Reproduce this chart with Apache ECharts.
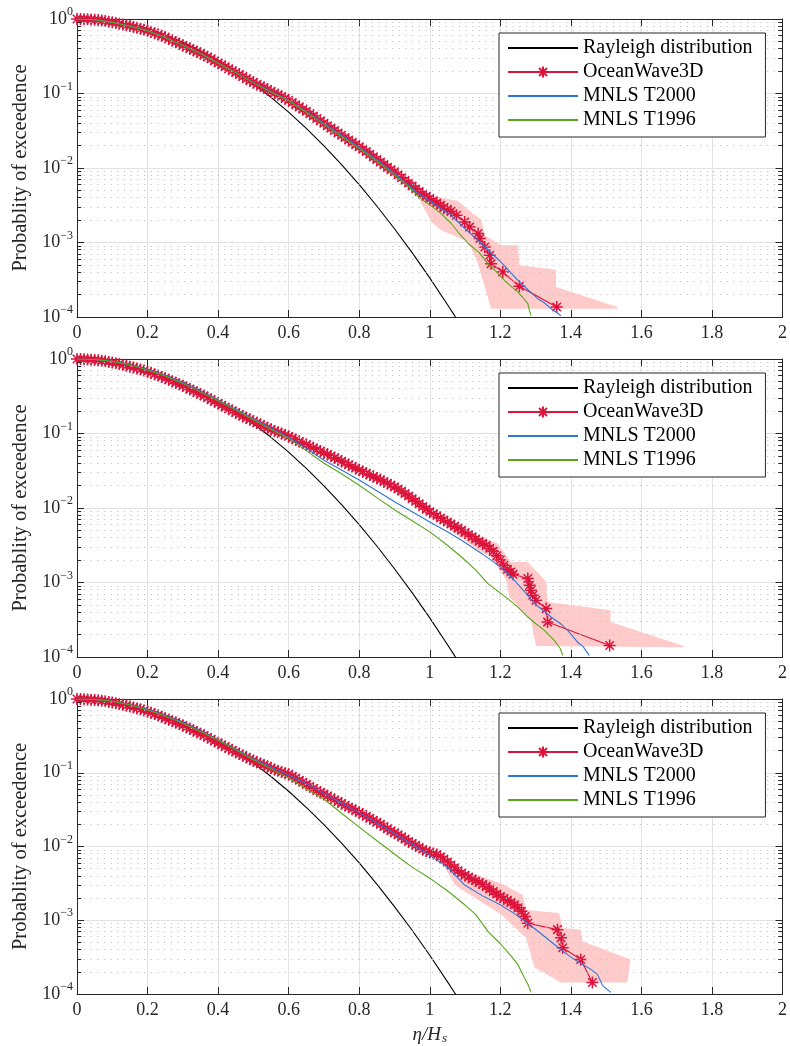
<!DOCTYPE html>
<html><head><meta charset="utf-8">
<script src="https://cdn.jsdelivr.net/npm/echarts@6/dist/echarts.min.js"></script>
<style>html,body{margin:0;padding:0;background:#fff}#c{width:790px;height:1046px}</style>
</head><body><div id="c"></div>
<script>
// ---------------- DATA ----------------
const seriesNames = ['Rayleigh distribution', 'OceanWave3D', 'MNLS T2000', 'MNLS T1996'];
const xTickValues = [0, 0.2, 0.4, 0.6, 0.8, 1, 1.2, 1.4, 1.6, 1.8, 2];
const xTickLabels = ['0', '0.2', '0.4', '0.6', '0.8', '1', '1.2', '1.4', '1.6', '1.8', '2'];
const yTickValues = [1e-4, 1e-3, 1e-2, 1e-1, 1];
const yTickExponents = ['\u22124', '\u22123', '\u22122', '\u22121', '0'];
const yMinorTicks = [2e-4,3e-4,4e-4,5e-4,6e-4,7e-4,8e-4,9e-4,
                     2e-3,3e-3,4e-3,5e-3,6e-3,7e-3,8e-3,9e-3,
                     2e-2,3e-2,4e-2,5e-2,6e-2,7e-2,8e-2,9e-2,
                     0.2,0.3,0.4,0.5,0.6,0.7,0.8,0.9];

// Rayleigh distribution (same in every panel)
const rayleigh = [[0,1],[0.05,0.980],[0.1,0.923],[0.15,0.835],[0.2,0.726],[0.25,0.6065],[0.3,0.4868],
  [0.35,0.3753],[0.4,0.2780],[0.45,0.1979],[0.5,0.1353],[0.55,0.0889],[0.6,0.0561],[0.65,0.0340],
  [0.7,0.0198],[0.75,0.0111],[0.8,0.00598],[0.85,0.00309],[0.9,0.00153],[0.95,0.000732],[1.0,0.000335],
  [1.05,0.000147],[1.07,0.000105],[1.08,0.0000885]];

// ---- Panel 1 ----
const ow3d1 = [[0,1],[0.01,0.999],[0.02,0.995],[0.03,0.990],[0.04,0.984],[0.05,0.976],[0.06,0.966],[0.07,0.953],
  [0.08,0.938],[0.09,0.921],[0.10,0.902],[0.11,0.882],[0.12,0.861],[0.13,0.844],[0.14,0.826],[0.15,0.804],
  [0.16,0.782],[0.17,0.762],[0.18,0.741],[0.19,0.720],[0.20,0.700],[0.21,0.672],[0.22,0.646],[0.23,0.621],
  [0.24,0.596],[0.25,0.569],[0.26,0.543],[0.27,0.516],[0.28,0.490],[0.29,0.466],[0.30,0.442],[0.31,0.422],
  [0.32,0.403],[0.33,0.382],[0.34,0.363],[0.35,0.345],[0.36,0.327],[0.37,0.309],[0.38,0.292],[0.39,0.274],
  [0.40,0.257],[0.41,0.243],[0.42,0.229],[0.43,0.215],[0.44,0.202],[0.45,0.191],[0.46,0.180],[0.47,0.169],
  [0.48,0.158],[0.49,0.149],[0.50,0.141],[0.51,0.133],[0.52,0.126],[0.53,0.120],[0.54,0.1135],[0.55,0.107],
  [0.56,0.101],[0.57,0.096],[0.58,0.0912],[0.59,0.086],[0.60,0.0813],[0.61,0.0759],[0.62,0.0708],[0.63,0.0661],
  [0.64,0.0617],[0.65,0.0575],[0.66,0.0537],[0.67,0.0498],[0.68,0.0462],[0.69,0.0429],[0.70,0.0398],
  [0.71,0.0369],[0.72,0.0343],[0.73,0.0318],[0.74,0.0295],[0.75,0.0275],[0.76,0.0257],[0.77,0.0238],
  [0.78,0.0221],[0.79,0.0206],[0.80,0.0193],[0.81,0.0179],[0.82,0.0166],[0.83,0.0153],[0.84,0.0141],
  [0.85,0.0130],[0.86,0.0120],[0.87,0.0111],[0.88,0.0102],[0.89,0.0095],[0.90,0.00891],[0.91,0.00813],
  [0.92,0.00741],[0.93,0.00683],[0.94,0.00631],[0.95,0.00575],[0.96,0.00525],[0.97,0.00485],[0.98,0.00447],
  [0.99,0.00417],[1.00,0.00389],[1.01,0.00363],[1.02,0.00339],[1.03,0.00316],[1.04,0.00295],[1.05,0.00278],
  [1.06,0.00263],[1.076,0.00232],[1.099,0.00189],[1.113,0.00161],[1.137,0.00132],[1.142,0.00113],
  [1.156,0.00087],[1.170,0.000673],[1.174,0.00052],[1.207,0.000401],[1.254,0.000258],[1.360,0.000136]];
const t2000_1 = [[0,1],[0.05,0.977],[0.1,0.902],[0.15,0.804],[0.2,0.700],[0.25,0.569],[0.3,0.442],[0.35,0.347],
  [0.4,0.257],[0.45,0.191],[0.5,0.141],[0.55,0.107],[0.6,0.0813],[0.65,0.0575],[0.7,0.0398],[0.75,0.0275],
  [0.8,0.0191],[0.85,0.0129],[0.9,0.00851],[0.95,0.00537],[0.968,0.00454],[1.0,0.00363],[1.03,0.0029],
  [1.061,0.00232],[1.09,0.0017],[1.12,0.00126],[1.156,0.00087],[1.18,0.00068],[1.2,0.00056],[1.22,0.00044],
  [1.25,0.00031],[1.28,0.00023],[1.306,0.000176],[1.325,0.000155],[1.344,0.000129],[1.36,0.000115],[1.372,0.000104]];
const t1996_1 = [[0,1],[0.05,0.977],[0.1,0.9],[0.15,0.8],[0.2,0.695],[0.25,0.565],[0.3,0.44],[0.35,0.345],
  [0.4,0.255],[0.45,0.19],[0.5,0.14],[0.55,0.105],[0.6,0.08],[0.65,0.056],[0.7,0.0385],[0.75,0.0265],
  [0.8,0.0183],[0.85,0.0123],[0.9,0.0081],[0.95,0.0051],[0.968,0.0041],[1.0,0.0032],[1.03,0.0025],
  [1.061,0.0018],[1.085,0.0013],[1.109,0.00097],[1.14,0.00073],[1.165,0.00052],[1.19,0.0004],[1.212,0.00031],
  [1.23,0.00026],[1.25,0.000216],[1.265,0.00018],[1.278,0.000151],[1.283,0.00012],[1.287,0.000105]];
const band1 = [[0.96,0.0058],[1.0,0.0043],[1.08,0.00361],[1.123,0.00244],[1.146,0.00203],[1.156,0.00125],
  [1.203,0.000916],[1.25,0.000916],[1.254,0.000494],[1.358,0.000432],[1.358,0.000252],[1.532,0.000136],
  [1.532,0.000129],[1.174,0.000129],[1.137,0.00052],[1.109,0.00102],[1.033,0.00146],[1.005,0.00189],[0.96,0.0046]];

// ---- Panel 2 ----
const ow3d2 = [[0,1],[0.01,0.998],[0.02,0.993],[0.03,0.987],[0.04,0.979],[0.05,0.970],[0.06,0.959],[0.07,0.946],
  [0.08,0.931],[0.09,0.914],[0.10,0.895],[0.11,0.876],[0.12,0.855],[0.13,0.835],[0.14,0.813],[0.15,0.790],
  [0.16,0.767],[0.17,0.746],[0.18,0.724],[0.19,0.700],[0.20,0.676],[0.21,0.650],[0.22,0.624],[0.23,0.600],
  [0.24,0.575],[0.25,0.550],[0.26,0.525],[0.27,0.502],[0.28,0.479],[0.29,0.458],[0.30,0.437],[0.31,0.415],
  [0.32,0.394],[0.33,0.374],[0.34,0.355],[0.35,0.337],[0.36,0.320],[0.37,0.302],[0.38,0.285],[0.39,0.269],
  [0.40,0.254],[0.41,0.240],[0.42,0.226],[0.43,0.214],[0.44,0.202],[0.45,0.191],[0.46,0.180],[0.47,0.171],
  [0.48,0.162],[0.49,0.154],[0.50,0.146],[0.51,0.139],[0.52,0.132],[0.53,0.125],[0.54,0.119],[0.55,0.113],
  [0.56,0.108],[0.57,0.104],[0.58,0.100],[0.59,0.0955],[0.60,0.0912],[0.61,0.0867],[0.62,0.0824],[0.63,0.0783],
  [0.64,0.0745],[0.65,0.0708],[0.66,0.0673],[0.67,0.064],[0.68,0.0608],[0.69,0.0578],[0.70,0.055],
  [0.71,0.0525],[0.72,0.0498],[0.73,0.0472],[0.74,0.0447],[0.75,0.0424],[0.76,0.0402],[0.77,0.038],
  [0.78,0.036],[0.79,0.0342],[0.80,0.0324],[0.81,0.0308],[0.82,0.0292],[0.83,0.0278],[0.84,0.0264],
  [0.85,0.0251],[0.86,0.0239],[0.87,0.0226],[0.88,0.0214],[0.89,0.0203],[0.90,0.0192],[0.91,0.018],
  [0.92,0.0168],[0.93,0.0157],[0.94,0.0145],[0.95,0.0133],[0.96,0.0123],[0.97,0.0114],[0.98,0.0105],
  [0.99,0.00966],[1.00,0.00891],[1.01,0.00836],[1.02,0.00785],[1.03,0.00736],[1.04,0.00692],[1.05,0.00649],
  [1.06,0.0061],[1.07,0.00571],[1.08,0.00537],[1.09,0.00504],[1.10,0.0047],[1.11,0.0044],[1.12,0.0041],
  [1.13,0.00384],[1.14,0.00358],[1.15,0.00335],[1.16,0.00313],[1.17,0.00288],[1.18,0.00263],[1.19,0.00229],
  [1.20,0.0020],[1.21,0.0017],[1.22,0.00151],[1.23,0.00138],[1.236,0.00129],[1.278,0.00113],[1.283,0.000916],
  [1.287,0.000785],[1.292,0.000673],[1.301,0.000577],[1.330,0.000446],[1.334,0.000294],[1.510,0.000143]];
const t2000_2 = [[0,1],[0.05,0.986],[0.1,0.933],[0.15,0.841],[0.2,0.724],[0.25,0.603],[0.3,0.484],[0.35,0.372],
  [0.4,0.281],[0.45,0.214],[0.5,0.158],[0.55,0.119],[0.6,0.0891],[0.65,0.0631],[0.7,0.0437],[0.75,0.0324],
  [0.8,0.0237],[0.85,0.017],[0.9,0.0121],[0.95,0.00891],[1.0,0.0065],[1.05,0.00479],[1.09,0.00369],
  [1.15,0.0024],[1.2,0.00162],[1.24,0.00107],[1.278,0.000673],[1.297,0.00052],[1.32,0.000427],[1.344,0.000344],
  [1.37,0.000282],[1.391,0.000228],[1.419,0.000158],[1.435,0.000138],[1.452,0.000105]];
const t1996_2 = [[0,1],[0.05,0.985],[0.1,0.93],[0.15,0.835],[0.2,0.71],[0.25,0.59],[0.3,0.47],[0.35,0.362],
  [0.4,0.275],[0.45,0.207],[0.5,0.153],[0.55,0.113],[0.6,0.0861],[0.65,0.0589],[0.7,0.0398],[0.75,0.0288],
  [0.8,0.0202],[0.85,0.0138],[0.902,0.00933],[0.95,0.00676],[1.0,0.00478],[1.05,0.00316],[1.09,0.0022],
  [1.13,0.00148],[1.165,0.000966],[1.221,0.000607],[1.25,0.000468],[1.278,0.000344],[1.3,0.000282],
  [1.325,0.000228],[1.353,0.000167],[1.37,0.00013],[1.377,0.000105]];
const band2 = [[1.05,0.0075],[1.1,0.005],[1.193,0.00333],[1.231,0.00189],[1.278,0.00189],[1.330,0.00102],
  [1.334,0.000547],[1.513,0.000423],[1.513,0.000294],[1.72,0.00014],
  [1.72,0.000135],[1.301,0.00014],[1.287,0.00031],[1.226,0.000638],[1.217,0.00107],[1.174,0.0022],
  [1.137,0.00271],[1.1,0.0037],[1.05,0.0055]];

// ---- Panel 3 ----
const ow3d3 = [[0,1],[0.01,0.998],[0.02,0.993],[0.03,0.987],[0.04,0.979],[0.05,0.970],[0.06,0.959],[0.07,0.946],
  [0.08,0.931],[0.09,0.914],[0.10,0.895],[0.11,0.876],[0.12,0.855],[0.13,0.835],[0.14,0.813],[0.15,0.790],
  [0.16,0.767],[0.17,0.746],[0.18,0.724],[0.19,0.700],[0.20,0.676],[0.21,0.650],[0.22,0.624],[0.23,0.600],
  [0.24,0.575],[0.25,0.550],[0.26,0.525],[0.27,0.502],[0.28,0.479],[0.29,0.458],[0.30,0.437],[0.31,0.415],
  [0.32,0.394],[0.33,0.374],[0.34,0.355],[0.35,0.337],[0.36,0.320],[0.37,0.302],[0.38,0.285],[0.39,0.269],
  [0.40,0.254],[0.41,0.240],[0.42,0.226],[0.43,0.214],[0.44,0.202],[0.45,0.191],[0.46,0.180],[0.47,0.171],
  [0.48,0.162],[0.49,0.154],[0.50,0.146],[0.51,0.139],[0.52,0.133],[0.53,0.127],[0.54,0.122],[0.55,0.116],
  [0.56,0.111],[0.57,0.106],[0.58,0.102],[0.59,0.0985],[0.60,0.0955],[0.61,0.0895],[0.62,0.0841],[0.63,0.0789],
  [0.64,0.0741],[0.65,0.0696],[0.66,0.0653],[0.67,0.0613],[0.68,0.0575],[0.69,0.0543],[0.70,0.0513],
  [0.71,0.0484],[0.72,0.0457],[0.73,0.0431],[0.74,0.0407],[0.75,0.0384],[0.76,0.0363],[0.77,0.0343],
  [0.78,0.0324],[0.79,0.0306],[0.80,0.029],[0.81,0.0273],[0.82,0.0257],[0.83,0.0241],[0.84,0.0226],
  [0.85,0.0213],[0.86,0.020],[0.87,0.0187],[0.88,0.0174],[0.89,0.0163],[0.90,0.0153],[0.91,0.0144],
  [0.92,0.0135],[0.93,0.0126],[0.94,0.0117],[0.95,0.0110],[0.96,0.0104],[0.97,0.0097],[0.98,0.00912],
  [0.99,0.0087],[1.00,0.00832],[1.01,0.00805],[1.02,0.00776],[1.03,0.00724],[1.04,0.00676],[1.05,0.00617],
  [1.06,0.00562],[1.07,0.00513],[1.08,0.00468],[1.09,0.00437],[1.10,0.00407],[1.11,0.00385],[1.12,0.00363],
  [1.13,0.00343],[1.14,0.00324],[1.15,0.00305],[1.16,0.00288],[1.17,0.00266],[1.18,0.00245],[1.19,0.00226],
  [1.20,0.00209],[1.21,0.00197],[1.22,0.00186],[1.23,0.00174],[1.24,0.00162],[1.25,0.00148],[1.26,0.00132],
  [1.27,0.00112],[1.278,0.000912],[1.362,0.000746],[1.372,0.000577],[1.377,0.000423],[1.428,0.000294],
  [1.461,0.000143]];
const t2000_3 = [[0,1],[0.05,0.986],[0.1,0.933],[0.15,0.841],[0.2,0.724],[0.25,0.603],[0.3,0.484],[0.35,0.372],
  [0.4,0.281],[0.45,0.21],[0.5,0.155],[0.55,0.12],[0.6,0.0933],[0.65,0.0708],[0.7,0.0525],[0.75,0.0389],
  [0.8,0.0288],[0.855,0.0202],[0.9,0.0151],[0.95,0.0107],[1.0,0.00759],[1.05,0.00525],[1.099,0.003],
  [1.15,0.00214],[1.2,0.00162],[1.24,0.00123],[1.278,0.000912],[1.32,0.000631],[1.372,0.000398],[1.4,0.000316],
  [1.433,0.000251],[1.455,0.000219],[1.475,0.000186],[1.49,0.00013],[1.513,0.000105]];
const t1996_3 = [[0,1],[0.05,0.985],[0.1,0.93],[0.15,0.835],[0.2,0.71],[0.25,0.59],[0.3,0.47],[0.35,0.362],
  [0.4,0.275],[0.45,0.205],[0.5,0.15],[0.55,0.113],[0.6,0.0851],[0.65,0.0603],[0.7,0.044],[0.75,0.0282],
  [0.8,0.0183],[0.855,0.0115],[0.913,0.00708],[0.95,0.00525],[1.0,0.00372],[1.05,0.00251],[1.099,0.00162],
  [1.13,0.0012],[1.165,0.000708],[1.2,0.00048],[1.231,0.000327],[1.25,0.00025],[1.268,0.000167],
  [1.28,0.00013],[1.287,0.000105]];
const band3 = [[1.04,0.0075],[1.080,0.00454],[1.137,0.00409],[1.203,0.00316],[1.264,0.0022],[1.273,0.00138],
  [1.367,0.00125],[1.377,0.000785],[1.428,0.000746],[1.433,0.00052],[1.569,0.000294],
  [1.56,0.000143],[1.372,0.000143],[1.297,0.000228],[1.273,0.000577],[1.203,0.00119],[1.071,0.003],[1.04,0.0055]];

const panels = [
  {ow3d: ow3d1, t2000: t2000_1, t1996: t1996_1, band: band1},
  {ow3d: ow3d2, t2000: t2000_2, t1996: t1996_2, band: band2},
  {ow3d: ow3d3, t2000: t2000_3, t1996: t1996_3, band: band3}
];

// ---------------- STYLE ----------------
const FONT = '"Liberation Serif", "DejaVu Serif", serif';
const AX = '#262626';
const COL = {ray: '#000000', ow: '#DC143C', t2000: '#2F74D8', t1996: '#5AA51B', band: '#FFCACA'};
const GRID_TOPS = [19, 359, 699];
const STAR = 'path://M0,-10L0,10M-10,0L10,0M-7.07,-7.07L7.07,7.07M-7.07,7.07L7.07,-7.07';
const CLEAR = 'rgba(0,0,0,0)';

const chart = echarts.init(document.getElementById('c'), null, {renderer: 'canvas'});
const grids = [], xAxes = [], yAxes = [], series = [], legends = [];

function plainLine(name, data, color, xi, yi, z) {
  return {
    type: 'line', name: name, xAxisIndex: xi, yAxisIndex: yi, data: data, z: z,
    symbol: 'circle', symbolSize: 1, showSymbol: false,
    lineStyle: {color: color, width: 1.1}, itemStyle: {color: CLEAR, borderColor: CLEAR, borderWidth: 0},
    clip: true, silent: true
  };
}

panels.forEach((p, i) => {
  grids.push({left: 77, top: GRID_TOPS[i], width: 709, height: 298, containLabel: false});
  const last = i === panels.length - 1;
  xAxes.push({
    type: 'value', gridIndex: i, min: 0, max: 2, interval: 0.2, position: 'bottom',
    axisLine: {show: true, onZero: false, lineStyle: {color: AX, width: 1}},
    axisTick: {show: true, inside: true, length: 7, lineStyle: {color: AX, width: 1}},
    axisLabel: {show: true, margin: 7, fontFamily: FONT, fontSize: 18, color: AX,
      formatter: v => { const k = xTickValues.findIndex(t => Math.abs(t - v) < 1e-6); return k >= 0 ? xTickLabels[k] : ''; }},
    splitLine: {show: true, lineStyle: {color: '#e2e2e2', width: 1}},
    name: last ? '{i|\u03b7/H}{sub|s}' : '', nameLocation: 'middle', nameGap: 30,
    nameTextStyle: {fontFamily: FONT, color: AX, rich: {
      i: {fontFamily: FONT, fontStyle: 'italic', fontSize: 19, color: AX},
      sub: {fontFamily: FONT, fontStyle: 'italic', fontSize: 13, color: AX, padding: [8, 0, 0, 1]}}}
  });
  xAxes.push({
    type: 'value', gridIndex: i, min: 0, max: 2, interval: 0.2, position: 'top',
    axisLine: {show: true, onZero: false, lineStyle: {color: AX, width: 1}},
    axisTick: {show: true, inside: true, length: 7, lineStyle: {color: AX, width: 1}},
    axisLabel: {show: false}, splitLine: {show: false}
  });
  yAxes.push({
    type: 'log', logBase: 10, gridIndex: i, min: 1e-4, max: 1, position: 'left',
    axisLine: {show: true, onZero: false, lineStyle: {color: AX, width: 1}},
    axisTick: {show: true, inside: true, length: 7, lineStyle: {color: AX, width: 1}},
    axisLabel: {show: true, margin: 4, fontFamily: FONT, color: AX,
      formatter: v => { const k = yTickValues.findIndex(t => Math.abs(Math.log10(t) - Math.log10(v)) < 1e-6);
        return k >= 0 ? '{b|10}{s|' + yTickExponents[k] + '}' : ''; },
      rich: {b: {fontFamily: FONT, fontSize: 18, color: AX},
             s: {fontFamily: FONT, fontSize: 12, color: AX, padding: [0, 0, 14, 0]}}},
    splitLine: {show: true, lineStyle: {color: '#e2e2e2', width: 1}},
    name: 'Probablity of exceedence', nameLocation: 'middle', nameRotate: 90, nameGap: 46,
    nameTextStyle: {fontFamily: FONT, fontSize: 20.5, color: AX}
  });
  yAxes.push({
    type: 'log', logBase: 10, gridIndex: i, min: 1e-4, max: 1, position: 'right',
    axisLine: {show: true, onZero: false, lineStyle: {color: AX, width: 1}},
    axisTick: {show: true, inside: true, length: 7, lineStyle: {color: AX, width: 1}},
    axisLabel: {show: false}, splitLine: {show: false}
  });

  const xi = 2 * i, yi = 2 * i;
  // minor grid lines and minor ticks, placed through the axes' coordinates
  const minorLines = [];
  yMinorTicks.forEach(v => {
    minorLines.push([{coord: [0, v], lineStyle: {color: '#c2c2c2', width: 1, type: [1.2, 5.5]}}, {coord: [2, v]}]);
    minorLines.push([{coord: [0, v], lineStyle: {color: AX, width: 1, type: 'solid'}}, {coord: [0.012, v]}]);
    minorLines.push([{coord: [1.988, v], lineStyle: {color: AX, width: 1, type: 'solid'}}, {coord: [2, v]}]);
  });
  series.push({
    type: 'line', name: '_minor' + i, xAxisIndex: xi, yAxisIndex: yi, data: [], z: 1, silent: true,
    markLine: {silent: true, symbol: ['none', 'none'], label: {show: false}, animation: false,
      emphasis: {disabled: true}, data: minorLines}
  });
  series.push({
    type: 'custom', name: '_band' + i, xAxisIndex: xi, yAxisIndex: yi, data: p.band, z: 2, silent: true,
    encode: {x: 0, y: 1}, clip: true,
    renderItem: (params, api) => {
      if (params.dataIndex !== 0) return null;
      const pts = p.band.map(d => api.coord(d));
      return {type: 'polygon', shape: {points: pts}, style: {fill: COL.band, stroke: null}};
    }
  });
  series.push(plainLine(seriesNames[0], rayleigh, COL.ray, xi, yi, 3));
  series.push({
    type: 'line', name: seriesNames[1], xAxisIndex: xi, yAxisIndex: yi, data: p.ow3d, z: 4,
    symbol: STAR, symbolSize: 12, showSymbol: true, showAllSymbol: true,
    itemStyle: {color: CLEAR, borderColor: COL.ow, borderWidth: 1.5},
    lineStyle: {color: COL.ow, width: 1.1}, clip: true, silent: true
  });
  series.push(plainLine(seriesNames[2], p.t2000, COL.t2000, xi, yi, 5));
  series.push(plainLine(seriesNames[3], p.t1996, COL.t1996, xi, yi, 6));
  legends.push({
    data: seriesNames, orient: 'vertical', left: 499, top: GRID_TOPS[i] + 14,
    backgroundColor: '#ffffff', borderColor: AX, borderWidth: 1, borderRadius: 0,
    padding: [5, 13, 7, 8], itemGap: 4, itemWidth: 70, itemHeight: 14, selectedMode: false,
    textStyle: {fontFamily: FONT, fontSize: 20, color: '#000'}, z: 10
  });
});

chart.setOption({
  animation: false, backgroundColor: '#ffffff',
  grid: grids, xAxis: xAxes, yAxis: yAxes, series: series, legend: legends
});
</script></body></html>
